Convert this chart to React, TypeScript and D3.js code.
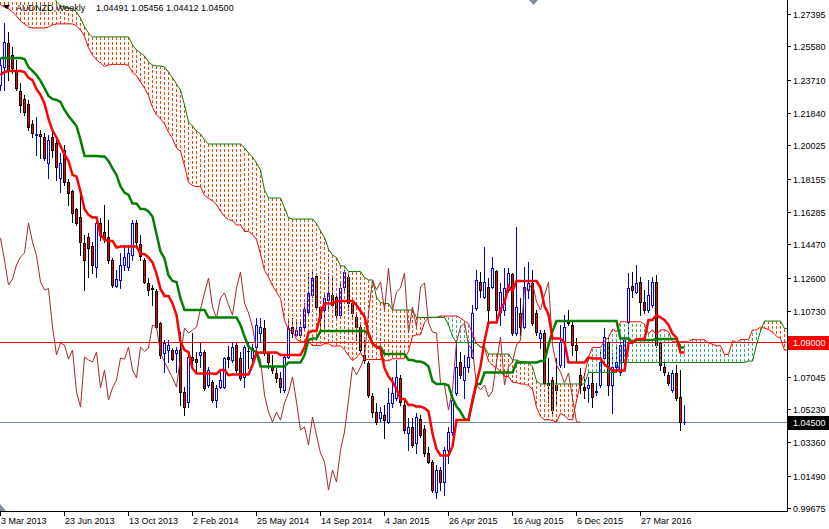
import React from 'react';
import * as d3 from 'd3';

// Weekly AUDNZD candles, first bar = week of 3 Mar 2013
const openP = [
1.2341,1.2442,1.2576,1.2510,1.2425,1.2307,1.2263,1.2235,1.2122,1.2061,
1.2066,1.2049,1.1904,1.2049,1.2016,1.1819,1.1976,1.1797,1.1746,1.1645,
1.1600,1.1455,1.1488,1.1438,1.1320,1.1567,1.1516,1.1488,1.1359,1.1213,
1.1247,1.1331,1.1320,1.1387,1.1567,1.1449,1.1359,1.1230,1.1202,1.1185,
1.1006,1.0837,1.0854,1.0854,1.0837,1.0854,1.0618,1.0562,1.0815,1.0803,
1.0826,1.0843,1.0658,1.0674,1.0573,1.0646,1.0646,1.0815,1.0798,1.0882,
1.0809,1.0703,1.0848,1.0809,1.0871,1.0949,1.0978,1.0837,1.0759,1.0725,
1.0697,1.0630,1.0815,1.0983,1.0938,1.0938,1.0983,1.1067,1.1163,1.1269,
1.1095,1.1079,1.1135,1.1163,1.1151,1.1050,1.1208,1.1264,1.1118,1.1039,
1.0983,1.0826,1.0781,1.0596,1.0506,1.0472,1.0489,1.0450,1.0557,1.0585,
1.0697,1.0545,1.0388,1.0422,1.0332,1.0467,1.0411,1.0276,1.0226,1.0057,
1.0181,1.0113,1.0293,1.0394,1.0613,1.0787,1.0686,1.0759,1.0815,1.1090,
1.1236,1.1152,1.1208,1.1208,1.1297,1.1067,1.1079,1.1191,1.1281,1.0949,
1.1062,1.0983,1.1191,1.1230,1.1062,1.0921,1.0949,1.0668,1.0686,1.0658,
1.0770,1.0899,1.1022,1.0994,1.0882,1.0714,1.0646,1.0641,1.0669,1.0618,
1.0658,1.0809,1.0899,1.0658,1.0759,1.0731,1.0787,1.1011,1.1213,1.1180,
1.1236,1.1124,1.1079,1.1107,1.1236,1.0893,1.0759,1.0714,1.0630,1.0725,
1.0591,1.04491];
const highP = [
1.2493,1.2689,1.2639,1.2555,1.2482,1.2352,1.2285,1.2257,1.2145,1.2162,
1.2089,1.2072,1.2061,1.2100,1.2033,1.1960,1.2005,1.1814,1.1752,1.1651,
1.1741,1.1499,1.1510,1.1460,1.1572,1.1595,1.1668,1.1584,1.1370,1.1303,
1.1398,1.1443,1.1443,1.1584,1.1584,1.1499,1.1370,1.1258,1.1219,1.1196,
1.1011,1.0910,1.0910,1.0865,1.0871,1.0955,1.0646,1.0826,1.0950,1.0843,
1.0893,1.0854,1.0759,1.0686,1.0658,1.0742,1.0815,1.0877,1.0899,1.0893,
1.0843,1.0882,1.0899,1.0888,1.1034,1.1034,1.1022,1.0843,1.0826,1.0753,
1.0731,1.0826,1.1034,1.1034,1.1022,1.1022,1.1118,1.1286,1.1303,1.1275,
1.1101,1.1180,1.1286,1.1275,1.1174,1.1236,1.1303,1.1286,1.1146,1.1050,
1.0994,1.0910,1.0792,1.0613,1.0557,1.0534,1.0545,1.0641,1.0703,1.0798,
1.0714,1.0573,1.0472,1.0472,1.0500,1.0489,1.0433,1.0310,1.0237,1.0209,
1.0198,1.0310,1.0422,1.0601,1.0899,1.0843,1.0826,1.0899,1.1107,1.1303,
1.1292,1.1432,1.1258,1.1376,1.1303,1.1230,1.1314,1.1314,1.1286,1.1544,
1.1146,1.1320,1.1348,1.1303,1.1079,1.0966,1.0966,1.0809,1.0703,1.0809,
1.0994,1.1050,1.1079,1.1011,1.0921,1.0753,1.0725,1.0703,1.0725,1.0669,
1.0854,1.0978,1.0921,1.0837,1.0871,1.0910,1.0927,1.1286,1.1292,1.1331,
1.1264,1.1191,1.1247,1.1264,1.1275,1.0910,1.0787,1.0731,1.0742,1.0770,
1.0742,1.05456];
const lowP = [
1.2313,1.2313,1.2369,1.2409,1.2313,1.2190,1.2173,1.2089,1.2049,1.1948,
1.1932,1.1920,1.1819,1.1937,1.1808,1.1741,1.1780,1.1668,1.1573,1.1556,
1.1387,1.1191,1.1264,1.1286,1.1264,1.1471,1.1460,1.1342,1.1208,1.1208,
1.1202,1.1303,1.1303,1.1359,1.1443,1.1359,1.1230,1.1163,1.1107,1.0978,
1.0809,1.0731,1.0787,1.0798,1.0731,1.0545,1.0489,1.0534,1.0770,1.0731,
1.0759,1.0630,1.0646,1.0562,1.0534,1.0641,1.0641,1.0759,1.0787,1.0731,
1.0686,1.0646,1.0753,1.0770,1.0854,1.0899,1.0826,1.0753,1.0725,1.0675,
1.0618,1.0618,1.0809,1.0927,1.0933,1.0927,1.0966,1.1050,1.1151,1.1084,
1.0955,1.0983,1.1090,1.1095,1.1039,1.1039,1.1191,1.1079,1.1039,1.0910,
1.0843,1.0781,1.0590,1.0478,1.0439,1.0455,1.0360,1.0444,1.0534,1.0573,
1.0545,1.0388,1.0293,1.0310,1.0276,1.0366,1.0259,1.0220,1.0057,1.0024,
1.0068,1.0040,1.0220,1.0377,1.0601,1.0697,1.0585,1.0731,1.0809,1.1079,
1.1152,1.1146,1.1011,1.1202,1.1034,1.0994,1.1050,1.1180,1.0938,1.0938,
1.0938,1.0978,1.1146,1.0994,1.0938,1.0865,1.0658,1.0562,1.0489,1.0545,
1.0759,1.0759,1.0994,1.0826,1.0787,1.0613,1.0585,1.0562,1.0534,1.0601,
1.0646,1.0787,1.0601,1.0500,1.0731,1.0714,1.0770,1.0921,1.1152,1.1174,
1.1051,1.1062,1.1067,1.1095,1.0871,1.0742,1.0714,1.0658,1.0618,1.0573,
1.0405,1.04412];
const closeP = [
1.2453,1.2582,1.2425,1.2437,1.2325,1.2229,1.2190,1.2106,1.2072,1.2066,
1.2055,1.1932,1.2033,1.1976,1.1881,1.1904,1.1797,1.1735,1.1623,1.1567,
1.1460,1.1359,1.1426,1.1331,1.1567,1.1499,1.1482,1.1359,1.1219,1.1252,
1.1331,1.1376,1.1398,1.1567,1.1460,1.1382,1.1236,1.1191,1.1199,1.0983,
1.0827,1.0893,1.0882,1.0803,1.0854,1.0618,1.0534,1.0815,1.0798,1.0787,
1.0843,1.0641,1.0742,1.0573,1.0641,1.0686,1.0809,1.0803,1.0871,1.0742,
1.0697,1.0871,1.0846,1.0865,1.0994,1.0983,1.0837,1.0787,1.0742,1.0697,
1.0646,1.0815,1.0978,1.0949,1.0966,1.0983,1.1084,1.1174,1.1258,1.1095,
1.1034,1.1146,1.1174,1.1107,1.1050,1.1202,1.1292,1.1118,1.1062,1.0983,
1.0854,1.0798,1.0601,1.0506,1.0450,1.0506,1.0461,1.0557,1.0613,1.0703,
1.0562,1.0405,1.0422,1.0321,1.0478,1.0377,1.0276,1.0226,1.0068,1.0181,
1.0113,1.0293,1.0394,1.0573,1.0759,1.0714,1.0759,1.0815,1.1062,1.1247,
1.1191,1.1236,1.1079,1.1314,1.1079,1.1180,1.1202,1.1286,1.0949,1.1095,
1.0983,1.1208,1.1230,1.1006,1.0955,1.0949,1.0668,1.0658,1.0517,1.0630,
1.0899,1.0983,1.1006,1.0882,1.0854,1.0658,1.0630,1.0658,1.0591,1.0624,
1.0787,1.0927,1.0658,1.0759,1.0787,1.0882,1.0910,1.1202,1.1191,1.1230,
1.1124,1.1079,1.1163,1.1236,1.0882,1.0770,1.0731,1.0669,1.0725,1.0585,
1.0450,1.04500];

// Ichimoku values that depend on weeks before the visible window
const tenkanEarly = [1.2397,1.2414,1.2420,1.2420,1.2420,1.2420,1.2414,1.2381];
const kijunEarly = [1.2493,1.2493,1.2493,1.2493,1.2493,1.2493,1.2487,1.2442,1.2420,1.2397,
1.2364,1.2324,1.2280,1.2263,1.2257,1.2246,1.2201,1.2167,1.2139,1.2111,1.2033,1.1943,1.1943,1.1943,1.1943];
const spanAEarly = [1.2790,1.2779,1.2768,1.2751,1.2728,1.2700,1.2684,1.2667,1.2661,1.2661,
1.2661,1.2661,1.2667,1.2678,1.2684,1.2684,1.2684,1.2684,1.2684,1.2672,1.2650,1.2616,1.2549,1.2510,1.2482,1.2465];
const spanBEarly = [1.2863,1.2863,1.2863,1.2863,1.2863,1.2863,1.2863,1.2863,1.2863,1.2863,
1.2863,1.2863,1.2863,1.2863,1.2807,1.2785,1.2779,1.2773,1.2768,1.2751,
1.2717,1.2667,1.2633,1.2611,1.2611,1.2611,1.2611,1.2611,1.2611,1.2611,
1.2611,1.2611,1.2611,1.2566,1.2538,1.2521,1.2504,1.2470,1.2453,1.2448,
1.2448,1.2442,1.2414,1.2381,1.2347,1.2313,1.2229,1.2134,1.2111,1.2083,
1.2066,1.2033,1.2010,1.2010,1.2010,1.2010,1.2010,1.2010,1.2010,1.2010,
1.2010,1.1988,1.1960,1.1937,1.1903,1.1864,1.1752,1.1707,1.1707,1.1707,
1.1707,1.1651,1.1595,1.1589,1.1589,1.1589,1.1589];

const yTickValues = [1.27395,1.25580,1.23710,1.21840,1.20025,1.18155,1.16285,1.14470,1.12600,1.10730,1.07045,1.05230,1.03360,1.01490,0.99675];
const xTickIndex = [0,16,32,48,64,80,96,112,128,144,160];
const xTickLabels = ['3 Mar 2013','23 Jun 2013','13 Oct 2013','2 Feb 2014','25 May 2014','14 Sep 2014','4 Jan 2015','26 Apr 2015','16 Aug 2015','6 Dec 2015','27 Mar 2016'];
const title = 'AUDNZD,Weekly';
const lastOHLC = [1.04491, 1.05456, 1.04412, 1.04500];
const priceLevel = 1.09;
const bidLevel = 1.045;

const TENKAN = 9, KIJUN = 26, SENKOU = 52;

function midRange(i: number, n: number) {
  const s = i - n + 1;
  const hh = d3.max(highP.slice(s, i + 1)) as number;
  const ll = d3.min(lowP.slice(s, i + 1)) as number;
  return (hh + ll) / 2;
}

export default function App() {
  const W = 829, H = 529;
  const plotR = 787, plotB = 511;
  const N = closeP.length;
  const x = d3.scaleLinear().domain([0, 160]).range([0, 640]);
  const y = d3.scaleLinear().domain([0.99675, 1.27395]).range([508, 14]);
  const py = (v: number) => Math.round(y(v));

  const tenkan = closeP.map((_, i) => (i < TENKAN - 1 ? tenkanEarly[i] : midRange(i, TENKAN)));
  const kijun = closeP.map((_, i) => (i < KIJUN - 1 ? kijunEarly[i] : midRange(i, KIJUN)));
  const P = N + KIJUN;
  const spanA: number[] = [];
  const spanB: number[] = [];
  for (let p = 0; p < P; p++) {
    const s = p - KIJUN;
    spanA.push(s < 0 ? spanAEarly[p] : (tenkan[s] + kijun[s]) / 2);
    spanB.push(s < SENKOU - 1 ? spanBEarly[p] : midRange(s, SENKOU));
  }
  const chikou = closeP.slice(KIJUN);

  const line = d3.line<number>().x((_, i) => x(i) + 0.5).y((d) => y(d));

  const font = "'Liberation Sans', Arial, sans-serif";

  return (
    <svg width={W} height={H} style={{ position: 'absolute', left: 0, top: 0, background: '#fff' }}
      xmlns="http://www.w3.org/2000/svg">
      <defs>
        <clipPath id="plot"><rect x={0} y={0} width={plotR} height={plotB} /></clipPath>
      </defs>
      <rect x={0} y={0} width={W} height={H} fill="#fff" />
      <g clipPath="url(#plot)">
        <line x1={0} x2={plotR} y1={py(priceLevel) + 0.5} y2={py(priceLevel) + 0.5} stroke="#ff0000" strokeWidth={1} />
        <line x1={0} x2={plotR} y1={py(bidLevel) + 0.5} y2={py(bidLevel) + 0.5} stroke="#778899" strokeWidth={1} />
        <g shapeRendering="crispEdges">
          {closeP.map((c, i) => {
            const o = openP[i];
            const cx = Math.round(x(i));
            const bull = c >= o;
            const top = py(Math.max(o, c));
            const bot = py(Math.min(o, c));
            const col = bull ? '#0000ff' : '#000000';
            return (
              <g key={i}>
                <line x1={cx + 0.5} x2={cx + 0.5} y1={py(highP[i])} y2={py(lowP[i]) + 1} stroke={col} strokeWidth={1} />
                {bull ? (
                  bot - top >= 1 ? (
                    <rect x={cx - 1 + 0.5} y={top + 0.5} width={2} height={bot - top} fill="#ffffff" stroke="#0000ff" strokeWidth={1} />
                  ) : (
                    <line x1={cx - 1} x2={cx + 2} y1={top + 0.5} y2={top + 0.5} stroke="#0000ff" strokeWidth={1} />
                  )
                ) : (
                  <g>
                    <rect x={cx - 1} y={top} width={3} height={Math.max(1, bot - top + 1)} fill="#000000" />
                    {bot - top > 1 && <rect x={cx} y={top + 1} width={1} height={bot - top - 1} fill="#ff0000" />}
                  </g>
                )}
              </g>
            );
          })}
        </g>
        <g shapeRendering="crispEdges">
          {spanA.map((a, p) => {
            const b = spanB[p];
            const ya = py(a), yb = py(b);
            if (Math.abs(ya - yb) < 1) return null;
            return (
              <line key={p} x1={x(p) + 0.5} x2={x(p) + 0.5} y1={yb} y2={ya}
                stroke={a > b ? '#3cb371' : '#ff4500'} strokeWidth={1} strokeDasharray="3,2" />
            );
          })}
        </g>
        <path d={line(spanA) || ''} fill="none" stroke="#ff0000" strokeWidth={1} />
        <path d={line(spanB) || ''} fill="none" stroke="#008000" strokeWidth={1} />
        <path d={line(chikou) || ''} fill="none" stroke="#a52a2a" strokeWidth={1} />
        <path d={line(kijun) || ''} fill="none" stroke="#008000" strokeWidth={2.5} />
        <path d={line(tenkan) || ''} fill="none" stroke="#ff0000" strokeWidth={2.5} />
      </g>

      <g shapeRendering="crispEdges">
        <line x1={plotR + 0.5} x2={plotR + 0.5} y1={0} y2={plotB + 1} stroke="#000" />
        <line x1={0} x2={plotR + 1} y1={plotB + 0.5} y2={plotB + 0.5} stroke="#000" />
        {yTickValues.map((v) => (
          <line key={v} x1={plotR} x2={plotR + 4} y1={py(v) + 0.5} y2={py(v) + 0.5} stroke="#000" />
        ))}
        {xTickIndex.map((t) => (
          <line key={t} x1={Math.round(x(t)) + 0.5} x2={Math.round(x(t)) + 0.5} y1={plotB} y2={plotB + 5} stroke="#000" />
        ))}
      </g>
      <g fontFamily={font} fontSize={9} fill="#000">
        {yTickValues.map((v) => (
          <text key={v} x={793} y={py(v) + 3.5}>{v.toFixed(5)}</text>
        ))}
        {xTickIndex.map((t, k) => (
          <text key={t} x={Math.round(x(t)) + 1} y={524}>{xTickLabels[k]}</text>
        ))}
      </g>
      <rect x={788} y={py(priceLevel) - 6} width={41} height={14} fill="#ff0000" />
      <text x={793} y={py(priceLevel) + 4} fontFamily={font} fontSize={9} fill="#fff">{priceLevel.toFixed(5)}</text>
      <rect x={788} y={py(bidLevel) - 6} width={41} height={14} fill="#000000" />
      <text x={793} y={py(bidLevel) + 4} fontFamily={font} fontSize={9} fill="#fff">{bidLevel.toFixed(5)}</text>

      <path d="M3,5 L10,5 L6.5,9 Z" fill="#000" />
      <text x={16} y={11} fontFamily={font} fontSize={9} fill="#000">{title}</text>
      <text x={96} y={11} fontFamily={font} fontSize={9} fill="#000">{lastOHLC.map((v) => v.toFixed(5)).join(' ')}</text>
      <path d="M529,0 L538,0 L533.5,5 Z" fill="#7f8c9f" />
      <path d="M0,511 L0,504 L6,511 Z" fill="#7f8c9f" />
    </svg>
  );
}
